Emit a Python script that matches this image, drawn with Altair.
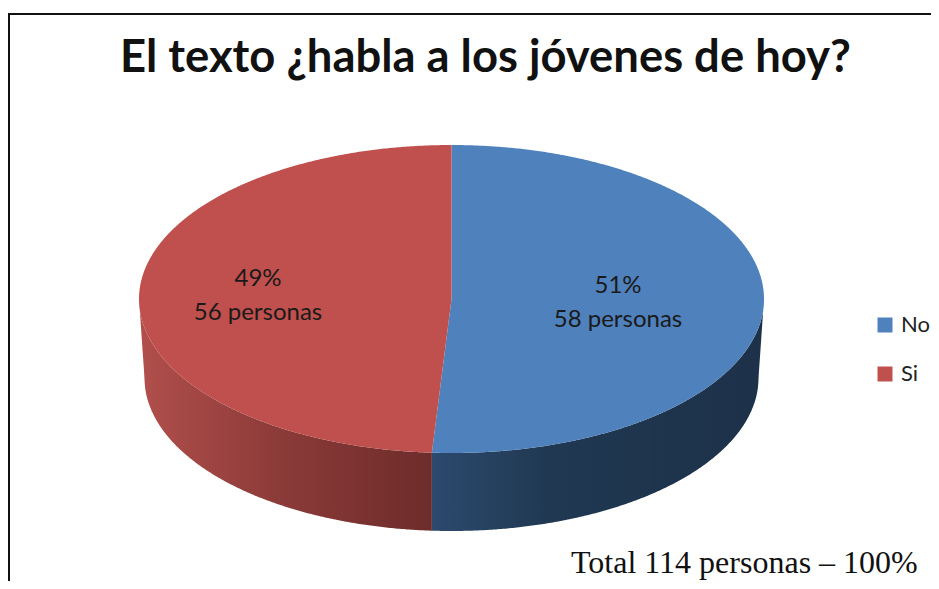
import numpy as np
import pandas as pd
import altair as alt

title = "El texto ¿habla a los jóvenes de hoy?"
footer = "Total 114 personas – 100%"
labels = ["No", "Si"]
percents = [51, 49]
people = [58, 56]
colors = ["#4f81bd", "#c0504d"]

# pie geometry, in units of the top face's radius
TILT = 154 / 312.5
LOW_RX = 307 / 312.5
LOW_RY = 153 / 312.5
LOW_DY = -79 / 312.5
PX = 312.5
CX, CY = 451.5, 299
W, H = 923, 573
ORG_X, ORG_Y = 8, 8

end = 2 * np.pi * percents[0] / 100
wx = float(np.sin(end))           # where the boundary radius meets the rim
wy = float(np.cos(end) * TILT)


def top_half(x):
    return TILT * np.sqrt(np.clip(1 - x * x, 0, 1))


def low_rim(x):
    a = np.abs(x)
    inner = LOW_DY - LOW_RY * np.sqrt(np.clip(1 - (x / LOW_RX) ** 2, 0, 1))
    edge = LOW_DY * (1 - (a - LOW_RX) / (1 - LOW_RX))
    return np.where(a <= LOW_RX, inner, edge)


grid = -np.cos(np.linspace(0, np.pi, 500))


def xs(lo, hi):
    g = grid[(grid > lo) & (grid < hi)]
    return np.concatenate([[lo], g, [hi]])


def radius_y(x):
    return x / wx * wy


rows = []
# blue top face
for v in xs(wx, 0):
    rows.append((labels[0], v, radius_y(v), -top_half(v)))
for v in xs(0, 1):
    rows.append((labels[0], v, top_half(v), -top_half(v)))
# red top face
for v in xs(-1, wx):
    rows.append((labels[1], v, top_half(v), -top_half(v)))
for v in xs(wx, 0):
    rows.append((labels[1], v, top_half(v), radius_y(v)))
faces = pd.DataFrame(rows, columns=["answer", "x", "y", "y2"])


def wall(lo, hi):
    x = xs(lo, hi)
    return pd.DataFrame({"x": x, "y": -top_half(x), "y2": low_rim(x)})


xdom = [(ORG_X - CX) / PX, (ORG_X + W - CX) / PX]
ydom = [(CY - ORG_Y - H) / PX, (CY - ORG_Y) / PX]
X = alt.X("x:Q", scale=alt.Scale(domain=xdom, nice=False, zero=False), axis=None)
Y = alt.Y("y:Q", scale=alt.Scale(domain=ydom, nice=False, zero=False), axis=None, stack=None)


def grad(stops):
    return alt.Gradient(
        gradient="linear", x1=0, x2=1, y1=0, y2=0,
        stops=[alt.GradientStop(offset=o, color=c) for o, c in stops],
    )


red_wall = alt.Chart(wall(-1, wx)).mark_area(
    color=grad([(0, "#b14f4c"), (0.5, "#8a3a38"), (1, "#6d2c2a")])
).encode(x=X, y=Y, y2="y2:Q")
blue_wall = alt.Chart(wall(wx, 1)).mark_area(
    color=grad([(0, "#2c4a6e"), (0.35, "#203852"), (1, "#1d3149")])
).encode(x=X, y=Y, y2="y2:Q")

top_faces = alt.Chart(faces).mark_area().encode(
    x=X, y=Y, y2="y2:Q",
    color=alt.Color(
        "answer:N",
        scale=alt.Scale(domain=labels, range=colors),
        legend=alt.Legend(
            title=None, orient="none", legendX=866, legendY=314 - ORG_Y,
            symbolType="square", symbolSize=225, symbolStrokeWidth=0,
            labelFont="Lato", labelFontSize=22, labelColor="#222222",
            labelOffset=5, rowPadding=27, padding=0,
        ),
    ),
)

notes = pd.DataFrame({
    "text": [[f"{percents[0]}%", f"{people[0]} personas"], [f"{percents[1]}%", f"{people[1]} personas"]],
    "x": [(618 - CX) / PX, (258 - CX) / PX],
    "y": [(CY - 286) / PX, (CY - 279) / PX],
})
pie_labels = alt.Chart(notes).mark_text(
    font="Lato", fontSize=24, color="#1a1a1a", lineHeight=34, baseline="middle", align="center"
).encode(x=X, y=Y, text="text")

head = alt.Chart(pd.DataFrame({"t": [title]})).mark_text(
    font="Lato", fontSize=45.4, fontWeight="bold", color="#111111", align="left", baseline="alphabetic"
).encode(x=alt.value(120 - ORG_X), y=alt.value(72 - ORG_Y), text="t:N")

foot = alt.Chart(pd.DataFrame({"t": [footer]})).mark_text(
    font="Liberation Serif", fontSize=32, color="#111111", align="left", baseline="alphabetic"
).encode(x=alt.value(571 - ORG_X), y=alt.value(573 - ORG_Y), text="t:N")

frame_left = alt.Chart(pd.DataFrame({"a": [0]})).mark_rule(color="#111111", strokeWidth=2).encode(
    x=alt.value(9 - ORG_X), y=alt.value(14 - ORG_Y), y2=alt.value(H)
)
frame_top = alt.Chart(pd.DataFrame({"a": [0]})).mark_rule(color="#111111", strokeWidth=2).encode(
    y=alt.value(14 - ORG_Y), x=alt.value(8 - ORG_X), x2=alt.value(W)
)

chart = (
    alt.layer(frame_left, frame_top, red_wall, blue_wall, top_faces, pie_labels, head, foot)
    .resolve_scale(x="shared", y="shared")
    .properties(
        width=W, height=H,
        autosize=alt.AutoSizeParams(type="none"),
        padding=0,
    )
    .configure_view(stroke=None)
)
chart.save("out.html", embed_options={"renderer": "svg", "actions": False})
